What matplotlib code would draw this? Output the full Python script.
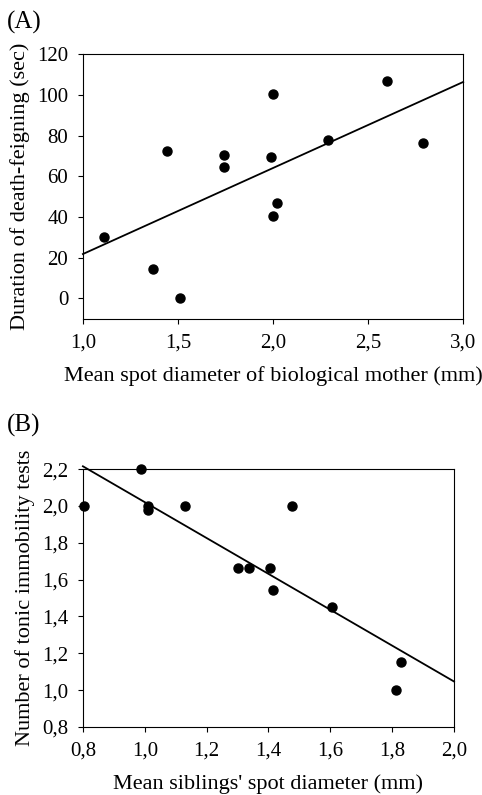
import matplotlib.pyplot as plt
from matplotlib.ticker import FuncFormatter

plt.rcParams["font.family"] = ["Liberation Serif", "DejaVu Serif"]

# (A) mother spot diameter vs death-feigning duration
mother_x = [1.11, 1.37, 1.44, 1.51, 1.74, 1.74, 1.99, 2.00, 2.00, 2.02, 2.29, 2.60, 2.79]
mother_y = [30, 14.5, 72.5, 0, 70.5, 64.5, 69.5, 100.5, 40.5, 47, 78, 107, 76.5]
fit_a_x = [1.0, 3.0]
fit_a_y = [21.8, 106.3]

# (B) siblings spot diameter vs number of tonic immobility tests
sib_x = [0.804, 0.988, 1.012, 1.012, 1.130, 1.303, 1.337, 1.405, 1.416, 1.475, 1.606, 1.812, 1.827]
sib_y = [2.0, 2.2, 2.0, 1.976, 2.0, 1.664, 1.664, 1.664, 1.545, 2.0, 1.453, 1.0, 1.154]
fit_b_x = [0.8, 2.0]
fit_b_y = [2.215, 1.047]


def comma(fmt):
    return FuncFormatter(lambda v, p: (fmt % v).replace(".", ","))


def style(ax):
    ax.tick_params(direction="out", length=3.5, width=0.8, labelsize=15, pad=7,
                   top=False, right=False)
    for s in ax.spines.values():
        s.set_linewidth(0.8)


fig = plt.figure(figsize=(4.82, 7.95), dpi=100)

ax1 = fig.add_axes([0.172, 0.599, 0.789, 0.333])
ax1.plot(fit_a_x, fit_a_y, color="black", lw=1.3, clip_on=False)
ax1.plot(mother_x, mother_y, "o", color="black", ms=6.5, clip_on=False)
ax1.set_xlim(1.0, 3.0)
ax1.set_ylim(-10, 120)
ax1.set_xticks([1.0, 1.5, 2.0, 2.5, 3.0])
ax1.set_yticks(range(0, 121, 20))
ax1.xaxis.set_major_formatter(comma("%.1f"))
style(ax1)
ax1.set_xlabel("Mean spot diameter of biological mother (mm)", fontsize=16, labelpad=10)
ax1.set_ylabel("Duration of death-feigning (sec)", fontsize=16, labelpad=5)
fig.text(0.015, 0.972, "(A)", fontsize=18, va="center", ha="left")

ax2 = fig.add_axes([0.172, 0.0855, 0.770, 0.3245])
ax2.plot(fit_b_x, fit_b_y, color="black", lw=1.3, clip_on=False)
ax2.plot(sib_x, sib_y, "o", color="black", ms=6.5, clip_on=False)
ax2.set_xlim(0.8, 2.0)
ax2.set_ylim(0.8, 2.2)
ax2.set_xticks([0.8, 1.0, 1.2, 1.4, 1.6, 1.8, 2.0])
ax2.set_yticks([0.8, 1.0, 1.2, 1.4, 1.6, 1.8, 2.0, 2.2])
ax2.xaxis.set_major_formatter(comma("%.1f"))
ax2.yaxis.set_major_formatter(comma("%.1f"))
style(ax2)
ax2.set_xlabel("Mean siblings' spot diameter (mm)", fontsize=16, labelpad=10)
ax2.set_ylabel("Number of tonic immobility tests", fontsize=16, labelpad=5)
fig.text(0.015, 0.465, "(B)", fontsize=18, va="center", ha="left")

fig.savefig("out.png", dpi=100)
